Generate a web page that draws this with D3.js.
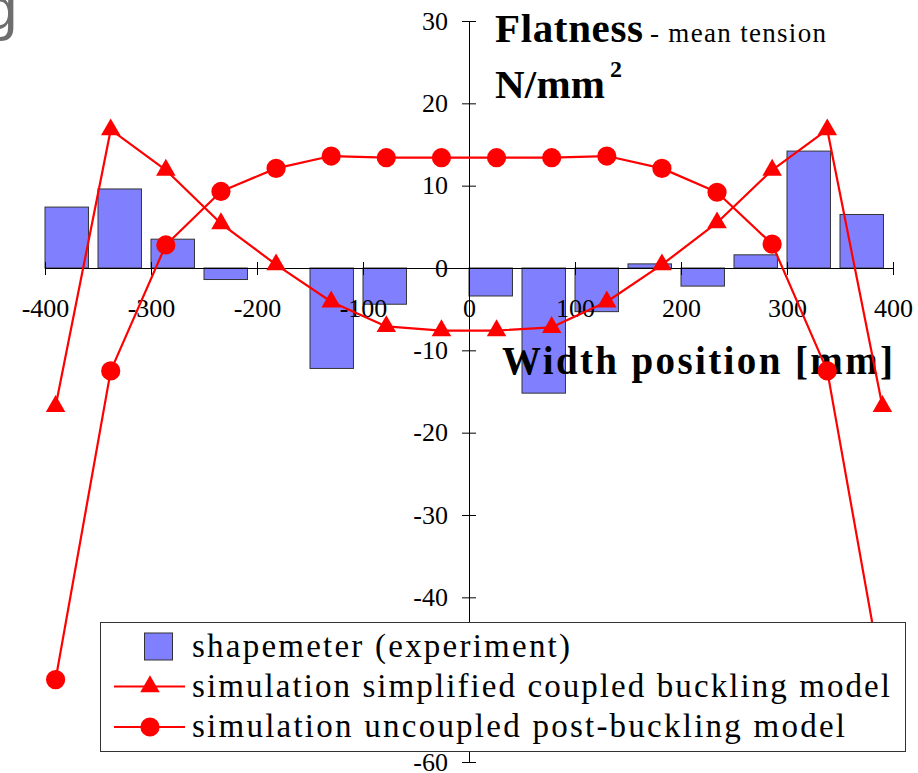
<!DOCTYPE html>
<html>
<head>
<meta charset="utf-8">
<script src="https://cdn.jsdelivr.net/npm/d3@7"></script>
<style>
  body { margin: 0; background: #fff; }
  svg { display: block; }
</style>
</head>
<body>
<div id="chart"></div>
<script>
// chart size
var width = 918, height = 773;

// simulation nodes across the strip width [mm]
var positions = [-390, -338, -286, -234, -182, -130, -78, -26, 26, 78, 130, 182, 234, 286, 338, 390];
var coupled   = [-16.8, 16.8, 11.9, 5.4, 0.4, -4.1, -7.1, -7.6, -7.6, -7.2, -4.1, 0.4, 5.5, 11.9, 16.8, -16.8];
var uncoupled = [-50.0, -12.5, 2.8, 9.3, 12.1, 13.6, 13.4, 13.4, 13.4, 13.4, 13.6, 12.1, 9.2, 2.9, -12.5, -50.0];

// shapemeter zones (zone start [mm]) and measured values
var zones      = [-400, -350, -300, -250, -200, -150, -100, -50, 0, 50, 100, 150, 200, 250, 300, 350];
var shapemeter = [7.4, 9.6, 3.5, -1.4, 0, -12.2, -4.4, 0, -3.4, -15.2, -5.3, 0.5, -2.2, 1.6, 14.2, 6.5];

var xTicks = [-400, -300, -200, -100, 0, 100, 200, 300, 400];
var yTicks = [30, 20, 10, 0, -10, -20, -30, -40, -50, -60];

var legendLabels = ["shapemeter (experiment)",
                    "simulation simplified coupled buckling model",
                    "simulation uncoupled post-buckling model"];

var serif = "Liberation Serif, Times New Roman, serif";
var red = "#ff0000", barFill = "#8080ff";

var svg = d3.select("#chart")
  .append("svg")
  .attr("width", width)
  .attr("height", height)
  .attr("viewBox", [0, 0, width, height])
  .style("font-family", serif);

var x = d3.scaleLinear().domain([-400, 400]).range([45, 893]);
var y = d3.scaleLinear().domain([-60, 30]).range([762, 21]);

// leftover glyph from the cropped page
svg.append("text")
  .attr("x", -16).attr("y", 29)
  .attr("font-family", "Liberation Sans, Arial, sans-serif")
  .attr("font-size", 60)
  .attr("fill", "#6e6e6e")
  .text("g");

// shapemeter bars
var barW = x(zones[0] + 41) - x(zones[0]);
svg.append("g")
  .selectAll("rect")
  .data(shapemeter)
  .join("rect")
    .attr("x", (d, i) => x(zones[i]))
    .attr("width", barW)
    .attr("y", d => y(Math.max(0, d)))
    .attr("height", d => Math.abs(y(d) - y(0)))
    .attr("fill", barFill)
    .attr("stroke", "#333")
    .attr("stroke-width", 1);

// axes
var xAxis = g => g
  .attr("transform", `translate(0,${y(0)})`)
  .call(d3.axisBottom(x).tickValues(xTicks).tickFormat(d => String(d)).tickSize(7).tickSizeOuter(0))
  .call(g => g.selectAll(".tick line").attr("y1", -6))
  .call(g => g.selectAll(".tick text").attr("y", 49).attr("dy", null)
      .attr("font-family", serif).attr("font-size", 26));

var yAxis = g => g
  .attr("transform", `translate(${x(0)},0)`)
  .call(d3.axisLeft(y).tickValues(yTicks).tickFormat(d => String(d)).tickSize(7).tickPadding(14).tickSizeOuter(0))
  .call(g => g.selectAll(".tick line").attr("x1", 7))
  .call(g => g.selectAll(".tick text").attr("font-family", serif).attr("font-size", 26));

svg.append("g").call(xAxis);
svg.append("g").call(yAxis);

// titles
svg.append("text")
  .attr("x", 495).attr("y", 41.5)
  .attr("font-size", 41).attr("font-weight", "bold")
  .attr("textLength", 148).attr("lengthAdjust", "spacing")
  .text("Flatness");
svg.append("text")
  .attr("x", 650).attr("y", 41.5)
  .attr("font-size", 27)
  .attr("textLength", 176).attr("lengthAdjust", "spacing")
  .text("- mean tension");
svg.append("text")
  .attr("x", 495).attr("y", 98)
  .attr("font-size", 41).attr("font-weight", "bold")
  .attr("textLength", 110).attr("lengthAdjust", "spacing")
  .text("N/mm");
svg.append("text")
  .attr("x", 610).attr("y", 77)
  .attr("font-size", 24).attr("font-weight", "bold")
  .text("2");
svg.append("text")
  .attr("x", 502).attr("y", 373.5)
  .attr("font-size", 39).attr("font-weight", "bold")
  .attr("textLength", 391).attr("lengthAdjust", "spacing")
  .text("Width position [mm]");

// simulation lines
var triangle = d3.symbol().type(d3.symbolTriangle).size(165);
var circle = d3.symbol().type(d3.symbolCircle).size(290);

function drawSeries(values, symbol) {
  var pts = values.map((v, i) => [positions[i], v]);
  svg.append("path")
    .datum(pts)
    .attr("fill", "none")
    .attr("stroke", red)
    .attr("stroke-width", 2.2)
    .attr("stroke-linejoin", "round")
    .attr("d", d3.line().x(d => x(d[0])).y(d => y(d[1])));
  svg.append("g")
    .selectAll("path")
    .data(pts)
    .join("path")
      .attr("transform", d => `translate(${x(d[0])},${y(d[1])})`)
      .attr("d", symbol)
      .attr("fill", red);
}
drawSeries(coupled, triangle);
drawSeries(uncoupled, circle);

// legend
var legend = svg.append("g");
legend.append("rect")
  .attr("x", 100.5).attr("y", 622.5)
  .attr("width", 805).attr("height", 129)
  .attr("fill", "#fff")
  .attr("stroke", "#333");

var rows = [646.5, 686.5, 727];
var textLens = [378, 698, 653];

legend.append("rect")
  .attr("x", 144.5).attr("y", rows[0] - 13.5)
  .attr("width", 28).attr("height", 27)
  .attr("fill", barFill).attr("stroke", "#333");

[triangle, circle].forEach((sym, i) => {
  var ry = rows[i + 1];
  legend.append("line")
    .attr("x1", 114).attr("x2", 185)
    .attr("y1", ry).attr("y2", ry)
    .attr("stroke", red).attr("stroke-width", 2.2);
  legend.append("path")
    .attr("transform", `translate(150,${ry})`)
    .attr("d", sym)
    .attr("fill", red);
});

legend.selectAll("text")
  .data(legendLabels)
  .join("text")
    .attr("x", 192)
    .attr("y", (d, i) => rows[i] + 10)
    .attr("font-family", serif)
    .attr("font-size", 33)
    .attr("textLength", (d, i) => textLens[i])
    .attr("lengthAdjust", "spacing")
    .text(d => d);
</script>
</body>
</html>
